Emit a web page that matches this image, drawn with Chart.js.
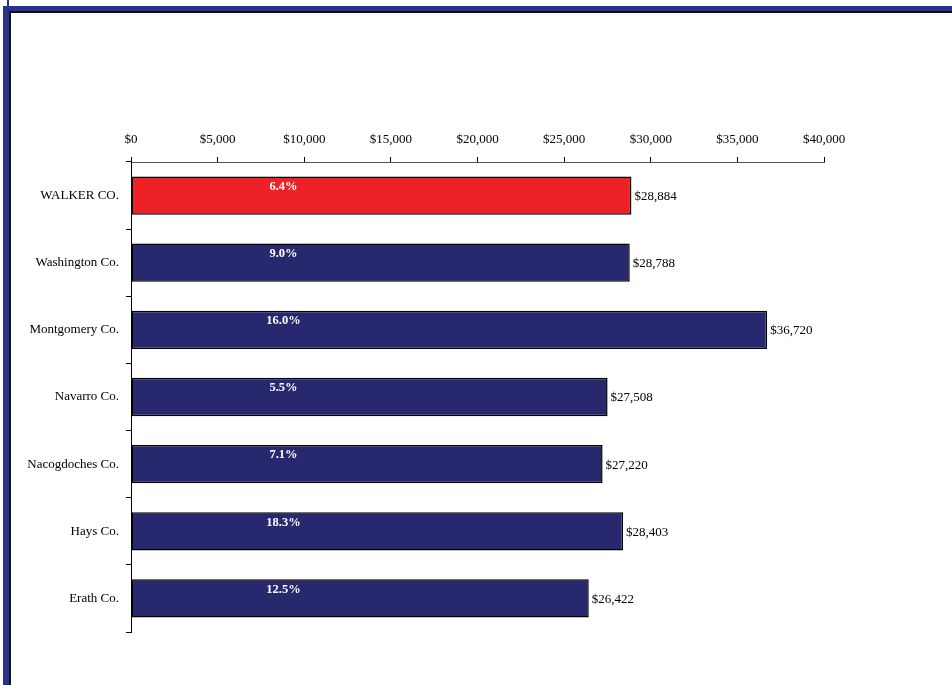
<!DOCTYPE html>
<html>
<head>
<meta charset="utf-8">
<script src="https://cdn.jsdelivr.net/npm/chart.js@4"></script>
<style>
  html, body { margin: 0; padding: 0; background: #fff; }
  #wrap { position: relative; width: 952px; height: 685px; overflow: hidden; }
  canvas { position: absolute; left: 0; top: 0; }
  .f { position: absolute; }
</style>
</head>
<body>
<div id="wrap">
  <div class="f" style="left:7px;top:0;width:2px;height:6px;background:#2b3190;"></div>
  <div class="f" style="left:3px;top:6px;width:6px;height:679px;background:#2b3190;"></div>
  <div class="f" style="left:3px;top:6px;width:949px;height:5px;background:#2b3190;"></div>
  <div class="f" style="left:9px;top:11px;width:943px;height:2px;background:#111;"></div>
  <div class="f" style="left:9px;top:11px;width:2px;height:674px;background:#111;"></div>
  <canvas id="c" width="952" height="685"></canvas>
</div>
<script>
const categories = ["WALKER CO.", "Washington Co.", "Montgomery Co.", "Navarro Co.", "Nacogdoches Co.", "Hays Co.", "Erath Co."];
const incomeValues = [28884, 28788, 36720, 27508, 27220, 28403, 26422];
const percentLabels = ["6.4%", "9.0%", "16.0%", "5.5%", "7.1%", "18.3%", "12.5%"];
const xTickValues = [0, 5000, 10000, 15000, 20000, 25000, 30000, 35000, 40000];
const percentLabelAt = 8800;

const barColors = categories.map((c, i) => i === 0 ? "#ee2126" : "#27286e");
const FONT = "'Liberation Serif', 'Times New Roman', serif";

const labelPlugin = {
  id: "labels",
  afterDatasetsDraw(chart) {
    const ctx = chart.ctx;
    const meta = chart.getDatasetMeta(0);
    const xs = chart.scales.x;
    ctx.save();
    meta.data.forEach((bar, i) => {
      ctx.font = "13px " + FONT;
      ctx.fillStyle = "#000";
      ctx.textAlign = "left";
      ctx.textBaseline = "middle";
      const v = incomeValues[i];
      ctx.fillText("$" + v.toLocaleString("en-US"), bar.x + 3, bar.y + 1);
      ctx.font = "bold 12.5px " + FONT;
      ctx.fillStyle = "#fff";
      ctx.textAlign = "center";
      ctx.fillText(percentLabels[i], xs.getPixelForValue(percentLabelAt), bar.y - 9);
    });
    ctx.restore();
  }
};

new Chart(document.getElementById("c"), {
  type: "bar",
  data: {
    labels: categories,
    datasets: [{
      data: incomeValues,
      backgroundColor: barColors,
      borderColor: "#000",
      borderWidth: 1.5,
      borderSkipped: false,
      categoryPercentage: 0.57,
      barPercentage: 1.0
    }]
  },
  options: {
    indexAxis: "y",
    responsive: false,
    animation: false,
    layout: { padding: { left: 0, right: 128, top: 0, bottom: 53 } },
    plugins: { legend: { display: false }, tooltip: { enabled: false } },
    scales: {
      x: {
        position: "top",
        min: 0, max: 40000,
        afterBuildTicks(scale) { scale.ticks = xTickValues.map(v => ({ value: v })); },
        afterFit(scale) { scale.height = 162; },
        grid: { drawOnChartArea: false, tickLength: 5, color: "#000", lineWidth: 1 },
        border: { color: "#555", width: 1 },
        ticks: {
          color: "#000",
          padding: 10,
          maxRotation: 0,
          font: { family: FONT, size: 13 },
          callback: v => "$" + Number(v).toLocaleString("en-US")
        }
      },
      y: {
        offset: true,
        afterFit(scale) { scale.width = 131; },
        grid: { drawOnChartArea: false, offset: true, tickLength: 5, color: "#000", lineWidth: 1 },
        border: { color: "#000", width: 1 },
        ticks: {
          color: "#000",
          padding: 7,
          font: { family: FONT, size: 13 }
        }
      }
    }
  },
  plugins: [labelPlugin]
});
</script>
</body>
</html>
